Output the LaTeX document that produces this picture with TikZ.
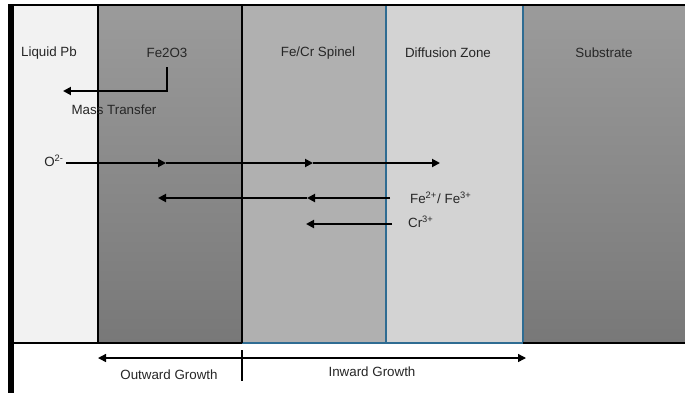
\documentclass[tikz,border=0pt]{standalone}
\usepackage{fontspec}
\setmainfont{Liberation Sans}
\usepackage{tikz}
\usetikzlibrary{positioning,arrows.meta}
\usepackage{xcolor}
\definecolor{pbfill}{HTML}{F2F2F2}
\definecolor{oxtop}{HTML}{9B9B9B}
\definecolor{oxbot}{HTML}{787878}
\definecolor{spinel}{HTML}{B0B0B0}
\definecolor{diffz}{HTML}{D3D3D3}
\definecolor{zoneline}{HTML}{2F6C92}
\definecolor{txt}{HTML}{262626}

\begin{document}
\begin{tikzpicture}[x=0.02cm,y=-0.02cm,>={Triangle[length=1.6mm,width=1.6mm]},
  lbl/.style={font=\fontsize{7.6}{9}\selectfont,text=txt,inner sep=1pt},
  flux/.style={->,line width=1.1pt}]
\useasboundingbox (0,0) rectangle (685,393);
\fill[white] (0,0) rectangle (685,393);
% layers
\fill[pbfill] (14,5) rectangle (98,343);
\shade[top color=oxtop,bottom color=oxbot] (98,5) rectangle (242,343);
\fill[spinel] (242,5) rectangle (386,343);
\fill[diffz] (386,5) rectangle (523,343);
\shade[top color=oxtop,bottom color=oxbot] (523,5) rectangle (685,343);
\draw[zoneline,line width=0.6pt] (242,343) -- (386,343);
\draw[zoneline,line width=0.6pt] (386,5) rectangle (523,343);
\draw[line width=0.6pt] (98,5) -- (98,343) (242,5) -- (242,343);
\draw[line width=0.8pt] (14,343) -- (242,343) (523,343) -- (685,343);
\draw[line width=1.2pt] (14,5) -- (685,5);
\fill (8,4) rectangle (14,393);
% layer names
\node[lbl] (pb) at (49,53) {Liquid Pb};
\node[lbl] (oxide) at (167,53) {Fe2O3};
\node[lbl] (spin) at (318,53) {Fe/Cr Spinel};
\node[lbl] (dz) at (448,53) {Diffusion Zone};
\node[lbl] (sub) at (604,53) {Substrate};
% mass transfer
\coordinate (mt0) at (167,67);
\coordinate (mt1) at (167,91);
\coordinate (mt2) at (63,91);
\draw[flux] (mt0) -- (mt1) -- (mt2);
\node[lbl] (mass) at (114,110) {Mass Transfer};
% oxygen inward
\node[lbl,anchor=east] (oxy) at (66,161) {O\textsuperscript{2-}};
\coordinate (o1) at (166,163);
\coordinate (o2) at (313,163);
\coordinate (o3) at (440,163);
\draw[flux] (oxy.east |- o1) -- (o1);
\draw[flux] (o1) -- (o2);
\draw[flux] (o2) -- (o3);
% cations outward
\node[lbl,anchor=west] (feion) at (408,198) {Fe\textsuperscript{2+}/ Fe\textsuperscript{3+}};
\coordinate (f0) at (390,198);
\coordinate (f1) at (307,198);
\coordinate (f2) at (158,198);
\draw[flux] (f0) -- (f1);
\draw[flux] (f1) -- (f2);
\node[lbl,anchor=west] (crion) at (406,222) {Cr\textsuperscript{3+}};
\coordinate (c0) at (392,224);
\coordinate (c1) at (306,224);
\draw[flux] (c0) -- (c1);
% growth directions
\coordinate (gl) at (98,358);
\coordinate (gr) at (526,358);
\coordinate (gt) at (242,350);
\coordinate (gb) at (242,381);
\draw[<->,line width=0.8pt] (gl) -- (gr);
\draw[line width=0.6pt] (gt) -- (gb);
\node[lbl] (outw) at (169,375) {Outward Growth};
\node[lbl] (inw) at (372,372) {Inward Growth};
\end{tikzpicture}
\end{document}
